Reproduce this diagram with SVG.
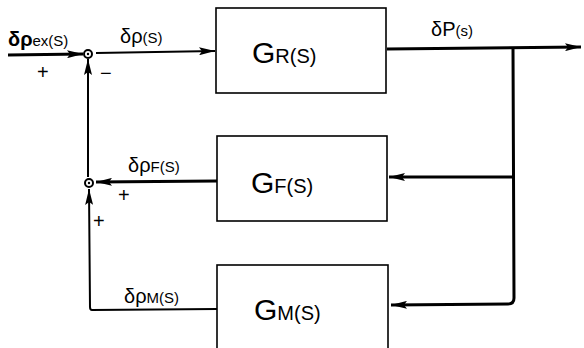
<svg xmlns="http://www.w3.org/2000/svg" width="584" height="348" viewBox="0 0 584 348">
<defs>
<marker id="ah" viewBox="0 0 16 8" refX="16" refY="4" markerWidth="16" markerHeight="8" markerUnits="userSpaceOnUse" orient="auto">
<path d="M0,0 L16,4 L0,8 L3,4 Z" fill="#000"/>
</marker>
</defs>
<style>
.box{fill:#fff;stroke:#000;stroke-width:1.6}
.ln{fill:none;stroke:#000;stroke-width:2}
.thk{fill:none;stroke:#000;stroke-width:3}
.t{font-family:"Liberation Sans",Arial,sans-serif;fill:#000}
.big{font-size:30px}
.sm{font-size:20px}
.lb{font-size:20px}
.sub{font-size:15px}
.sgn{font-family:"Liberation Sans",Arial,sans-serif;font-size:20px;fill:#000}
.jn{fill:#fff;stroke:#000;stroke-width:2}
</style>
<g id="connectors">
<line class="thk" x1="8" y1="55" x2="83" y2="54" marker-end="url(#ah)"/>
<line class="ln" x1="96" y1="53" x2="215" y2="51" marker-end="url(#ah)"/>
<line class="thk" x1="387" y1="49" x2="581" y2="47" marker-end="url(#ah)"/>
<path class="thk" d="M513,48 L514,298 Q514,304 508,304 L391,305" marker-end="url(#ah)"/>
<line class="thk" x1="513" y1="177" x2="389" y2="177" marker-end="url(#ah)"/>
<line class="thk" x1="217" y1="181" x2="96" y2="182" marker-end="url(#ah)"/>
<path class="ln" d="M217,309 L92,310 Q90,310 90,307 L89,189" marker-end="url(#ah)"/>
<line class="ln" x1="88" y1="177" x2="88" y2="59" marker-end="url(#ah)"/>
</g>
<g id="sum1"><circle class="jn" cx="88" cy="54" r="4"/><circle cx="88" cy="54" r="1.2" fill="#000"/></g>
<g id="sum2"><circle class="jn" cx="89" cy="183" r="4"/><circle cx="89" cy="183" r="1.2" fill="#000"/></g>
<g id="GR">
<rect class="box" x="216" y="8" width="170" height="85"/>
<text class="t" x="252" y="63"><tspan class="big">G</tspan><tspan class="sm">R(S)</tspan></text>
</g>
<g id="GF">
<rect class="box" x="217" y="136" width="170" height="85"/>
<text class="t" x="251" y="193"><tspan class="big">G</tspan><tspan class="sm">F(S)</tspan></text>
</g>
<g id="GM">
<rect class="box" x="217" y="265" width="171" height="95"/>
<text class="t" x="254" y="320"><tspan class="big">G</tspan><tspan class="sm">M(S)</tspan></text>
</g>
<g id="labels">
<text class="t" x="8" y="46"><tspan class="lb" font-weight="bold">δρ</tspan><tspan class="sub">ex(S)</tspan></text>
<text class="t" x="120" y="43"><tspan class="lb">δρ</tspan><tspan class="sub">(S)</tspan></text>
<text class="t" x="431" y="36"><tspan class="lb">δP</tspan><tspan class="sub">(s)</tspan></text>
<text class="t" x="128" y="172"><tspan class="lb">δρ</tspan><tspan class="sub">F(S)</tspan></text>
<text class="t" x="124" y="303"><tspan class="lb">δρ</tspan><tspan class="sub">M(S)</tspan></text>
<text class="sgn" x="37" y="79">+</text>
<text class="sgn" x="100" y="80">−</text>
<text class="sgn" x="118" y="202">+</text>
<text class="sgn" x="93" y="228">+</text>
</g>
</svg>
